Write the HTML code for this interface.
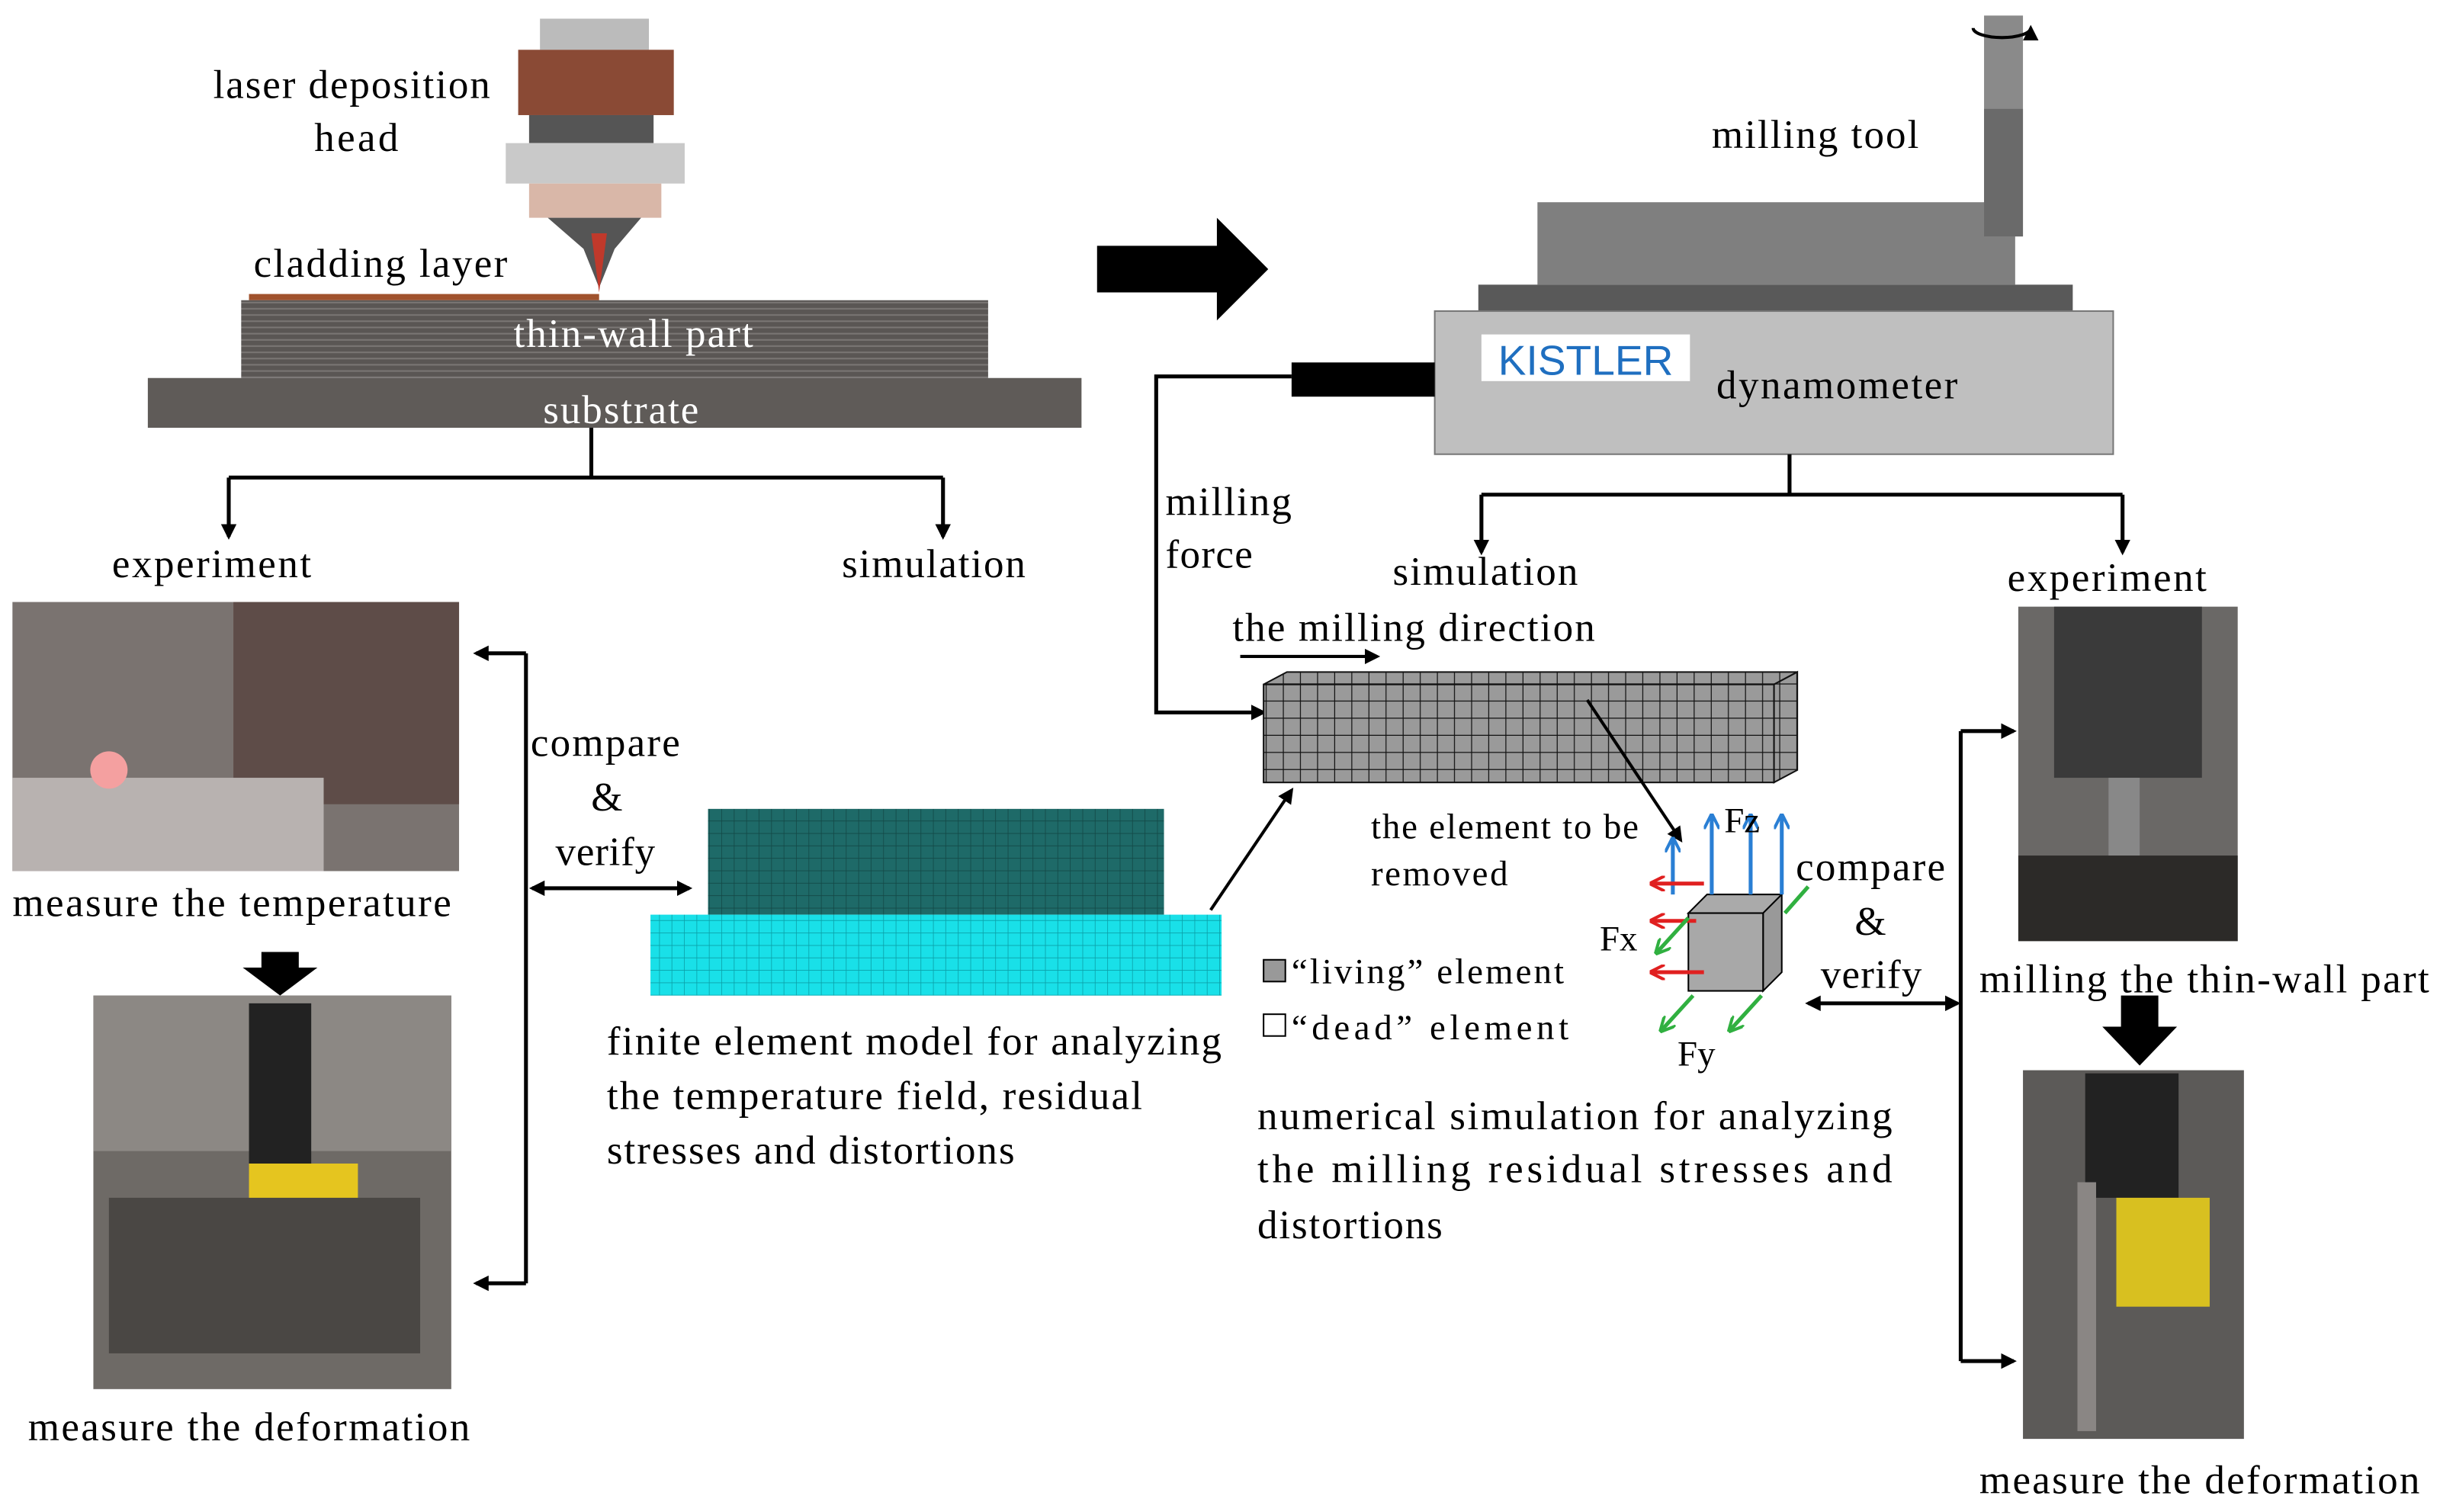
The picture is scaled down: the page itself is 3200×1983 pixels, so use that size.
<!DOCTYPE html>
<html><head><meta charset="utf-8"><style>html,body{margin:0;padding:0;background:#fff}svg{display:block}</style></head>
<body>
<svg width="3200" height="1983" viewBox="0 0 1568 972" preserveAspectRatio="none" xmlns="http://www.w3.org/2000/svg" font-family="Liberation Serif, serif" font-size="26">
<defs>
<marker id="a" markerWidth="10" markerHeight="10" refX="8" refY="5" orient="auto" markerUnits="userSpaceOnUse"><path d="M0,0 L10,5 L0,10 z" fill="#000"/></marker>
<marker id="ab" markerWidth="10" markerHeight="10" refX="2" refY="5" orient="auto" markerUnits="userSpaceOnUse"><path d="M10,0 L0,5 L10,10 z" fill="#000"/></marker>
<marker id="mb" markerWidth="10" markerHeight="10" refX="8" refY="5" orient="auto" markerUnits="userSpaceOnUse"><path d="M0,0 L10,5 L0,10" stroke="#2a7fd4" stroke-width="2" fill="none"/></marker>
<marker id="mr" markerWidth="10" markerHeight="10" refX="8" refY="5" orient="auto" markerUnits="userSpaceOnUse"><path d="M0,0 L10,5 L0,10" stroke="#e02020" stroke-width="2" fill="none"/></marker>
<marker id="mg" markerWidth="10" markerHeight="10" refX="8" refY="5" orient="auto" markerUnits="userSpaceOnUse"><path d="M0,0 L10,5 L0,10" stroke="#30b040" stroke-width="2" fill="none"/></marker>
<pattern id="stripes" width="10" height="4" patternUnits="userSpaceOnUse"><rect width="10" height="4" fill="#5a5654"/><rect y="2" width="10" height="1" fill="#7a7674"/></pattern>
<pattern id="g1" width="8" height="8" patternUnits="userSpaceOnUse"><rect width="8" height="8" fill="#1e6a68"/><path d="M8,0V8M0,8H8" stroke="#134846" stroke-width="0.8"/></pattern>
<pattern id="g2" width="8" height="8" patternUnits="userSpaceOnUse"><rect width="8" height="8" fill="#19e0e8"/><path d="M8,0V8M0,8H8" stroke="#0aa0a8" stroke-width="0.8"/></pattern>
<pattern id="g3" width="11" height="11" patternUnits="userSpaceOnUse"><rect width="11" height="11" fill="#9a9a9a"/><path d="M11,0V11M0,11H11" stroke="#111" stroke-width="1.2"/></pattern>
</defs>
<!-- laser head -->
<rect x="347" y="12" width="70" height="20" fill="#bbb"/>
<rect x="333" y="32" width="100" height="42" fill="#8a4a35"/>
<rect x="340" y="74" width="80" height="18" fill="#555"/>
<rect x="325" y="92" width="115" height="26" fill="#c9c9c9"/>
<rect x="340" y="118" width="85" height="22" fill="#d9b7a8"/>
<path d="M352,140 L412,140 L395,160 L385,185 L375,160 z" fill="#555"/>
<path d="M380,150 L390,150 L385,188 z" fill="#c0392b"/>
<text x="137" y="63" textLength="178">laser deposition</text>
<text x="202" y="97" textLength="54">head</text>
<text x="163" y="178" textLength="163">cladding  layer</text>
<rect x="160" y="189" width="225" height="4" fill="#a0522d"/>
<rect x="155" y="193" width="480" height="50" fill="url(#stripes)"/>
<rect x="95" y="243" width="600" height="32" fill="#5f5b58"/>
<text x="330" y="223" textLength="154" fill="#fff">thin-wall part</text>
<text x="349" y="272" textLength="100" fill="#fff">substrate</text>
<g stroke="#000" stroke-width="2.5" fill="none">
<path d="M380,275 V307 M147,307 H606"/>
<path d="M147,307 V345" marker-end="url(#a)"/>
<path d="M606,307 V345" marker-end="url(#a)"/>
</g>
<text x="72" y="371" textLength="128">experiment</text>
<text x="541" y="371" textLength="118">simulation</text>
<!-- photos left -->
<rect x="8" y="387" width="287" height="173" fill="#7a7370"/>
<rect x="150" y="387" width="145" height="130" fill="#5e4c48"/>
<rect x="8" y="500" width="200" height="60" fill="#b8b2b0"/>
<circle cx="70" cy="495" r="12" fill="#f4a0a0"/>
<text x="8" y="589" textLength="282">measure the temperature</text>
<path d="M168,612 H192 V622 H204 L180,640 L156,622 H168 z" fill="#000"/>
<rect x="60" y="640" width="230" height="253" fill="#6e6a66"/>
<rect x="60" y="640" width="230" height="100" fill="#8c8884"/>
<rect x="160" y="645" width="40" height="110" fill="#222"/>
<rect x="160" y="748" width="70" height="70" fill="#e5c51f"/>
<rect x="70" y="770" width="200" height="100" fill="#4a4744"/>
<text x="18" y="926" textLength="284">measure the deformation</text>
<!-- left compare -->
<g stroke="#000" stroke-width="2.5" fill="none">
<path d="M338,420 V825"/>
<path d="M338,420 H306" marker-end="url(#a)"/>
<path d="M338,825 H306" marker-end="url(#a)"/>
<path d="M342,571 H443" marker-start="url(#ab)" marker-end="url(#a)"/>
</g>
<text x="341" y="486" textLength="96">compare</text>
<text x="390" y="521" text-anchor="middle">&amp;</text>
<text x="357" y="556" textLength="64">verify</text>
<!-- FE model -->
<rect x="455" y="520" width="293" height="68" fill="url(#g1)"/>
<rect x="418" y="588" width="367" height="52" fill="url(#g2)"/>
<text x="390" y="678" textLength="395">finite element model for analyzing</text>
<text x="390" y="713" textLength="344">the temperature  field, residual</text>
<text x="390" y="748" textLength="262">stresses and distortions</text>
<path d="M778,585 L830,508" stroke="#000" stroke-width="2" marker-end="url(#a)"/>
<!-- big right arrow -->
<path d="M705,158 H782 V140 L815,173 L782,206 V188 H705 z" fill="#000"/>
<!-- milling setup -->
<rect x="988" y="130" width="307" height="53" fill="#7f7f7f"/>
<rect x="950" y="183" width="382" height="17" fill="#595959"/>
<rect x="922" y="200" width="436" height="92" fill="#bfbfbf" stroke="#777"/>
<rect x="952" y="215" width="134" height="30" fill="#fff"/>
<text x="1019" y="241" text-anchor="middle" font-family="Liberation Sans, sans-serif" font-size="27" fill="#1f6fc0">KISTLER</text>
<text x="1103" y="256" textLength="155">dynamometer</text>
<rect x="830" y="233" width="92" height="22" fill="#000"/>
<rect x="1275" y="10" width="25" height="142" fill="#8a8a8a"/>
<rect x="1275" y="70" width="25" height="82" fill="#6a6a6a"/>
<path d="M1268,18 A18,6 0 1 0 1305,18" stroke="#000" stroke-width="2" fill="none" marker-end="url(#a)"/>
<text x="1100" y="95" textLength="133">milling tool</text>
<g stroke="#000" stroke-width="2.5" fill="none">
<path d="M830,242 H743 V458 H812" marker-end="url(#a)"/>
<path d="M1150,292 V318 M952,318 H1364"/>
<path d="M952,318 V355" marker-end="url(#a)"/>
<path d="M1364,318 V355" marker-end="url(#a)"/>
</g>
<text x="749" y="331" textLength="81">milling</text>
<text x="749" y="365" textLength="56">force</text>
<text x="895" y="376" textLength="119">simulation</text>
<text x="1290" y="380" textLength="128">experiment</text>
<text x="792" y="412" textLength="233">the milling direction</text>
<path d="M797,422 H885" stroke="#000" stroke-width="2" marker-end="url(#a)"/>
<!-- mesh block -->
<path d="M812,440 L827,432 L1155,432 L1140,440 z" fill="url(#g3)" stroke="#111"/>
<path d="M1140,440 L1155,432 L1155,495 L1140,503 z" fill="url(#g3)" stroke="#111"/>
<rect x="812" y="440" width="328" height="63" fill="url(#g3)" stroke="#111"/>
<path d="M1020,450 L1080,540" stroke="#000" stroke-width="2" marker-end="url(#a)"/>
<text x="881" y="539" font-size="23" textLength="172">the element to be</text>
<text x="881" y="569" font-size="23" textLength="88">removed</text>
<!-- cube -->
<path d="M1085,587 L1097,575 L1145,575 L1133,587 z" fill="#aaa" stroke="#000"/>
<path d="M1133,587 L1145,575 L1145,625 L1133,637 z" fill="#999" stroke="#000"/>
<rect x="1085" y="587" width="48" height="50" fill="#a8a8a8" stroke="#000"/>
<g stroke="#2a7fd4" stroke-width="2.5" fill="none">
<path d="M1075,575 V540" marker-end="url(#mb)"/><path d="M1100,575 V525" marker-end="url(#mb)"/><path d="M1125,575 V525" marker-end="url(#mb)"/><path d="M1145,575 V525" marker-end="url(#mb)"/>
</g>
<g stroke="#e02020" stroke-width="2.5" fill="none"><path d="M1095,568 H1062" marker-end="url(#mr)"/><path d="M1090,592 H1062" marker-end="url(#mr)"/><path d="M1095,625 H1062" marker-end="url(#mr)"/></g>
<g stroke="#30b040" stroke-width="2.5" fill="none"><path d="M1085,590 L1065,612" marker-end="url(#mg)"/><path d="M1088,640 L1068,662" marker-end="url(#mg)"/><path d="M1132,640 L1112,662" marker-end="url(#mg)"/><path d="M1162,570 L1147,587"/></g>
<text x="1108" y="535" font-size="23">Fz</text>
<text x="1028" y="611" font-size="23">Fx</text>
<text x="1078" y="685" font-size="23">Fy</text>
<text x="1154" y="566" textLength="96">compare</text>
<text x="1202" y="601" text-anchor="middle">&amp;</text>
<text x="1170" y="635" textLength="65">verify</text>
<g stroke="#000" stroke-width="2.5" fill="none">
<path d="M1162,645 H1258" marker-start="url(#ab)" marker-end="url(#a)"/>
<path d="M1260,470 V875"/>
<path d="M1260,470 H1294" marker-end="url(#a)"/>
<path d="M1260,875 H1294" marker-end="url(#a)"/>
</g>
<rect x="812" y="617" width="14" height="14" fill="#999" stroke="#000"/>
<rect x="812" y="652" width="14" height="14" fill="#fff" stroke="#000"/>
<text x="830" y="632" font-size="23" textLength="175">“living”  element</text>
<text x="830" y="668" font-size="23" textLength="178">“dead”  element</text>
<text x="808" y="726" textLength="408">numerical simulation for analyzing</text>
<text x="808" y="760" textLength="408">the milling residual stresses and</text>
<text x="808" y="796" textLength="119">distortions</text>
<!-- right photos -->
<rect x="1297" y="390" width="141" height="215" fill="#6a6866"/>
<rect x="1320" y="390" width="95" height="110" fill="#3a3a3a"/>
<rect x="1355" y="500" width="20" height="50" fill="#888"/>
<rect x="1297" y="550" width="141" height="55" fill="#2c2a28"/>
<text x="1272" y="638" textLength="289">milling the thin-wall part</text>
<path d="M1363,640 H1387 V660 H1399 L1375,685 L1351,660 H1363 z" fill="#000"/>
<rect x="1300" y="688" width="142" height="237" fill="#5c5a58"/>
<rect x="1340" y="690" width="60" height="80" fill="#222"/>
<rect x="1360" y="770" width="60" height="70" fill="#d8c020"/>
<rect x="1335" y="760" width="12" height="160" fill="#8a8684"/>
<text x="1272" y="960" textLength="283">measure the deformation</text>
</svg>
</body></html>
